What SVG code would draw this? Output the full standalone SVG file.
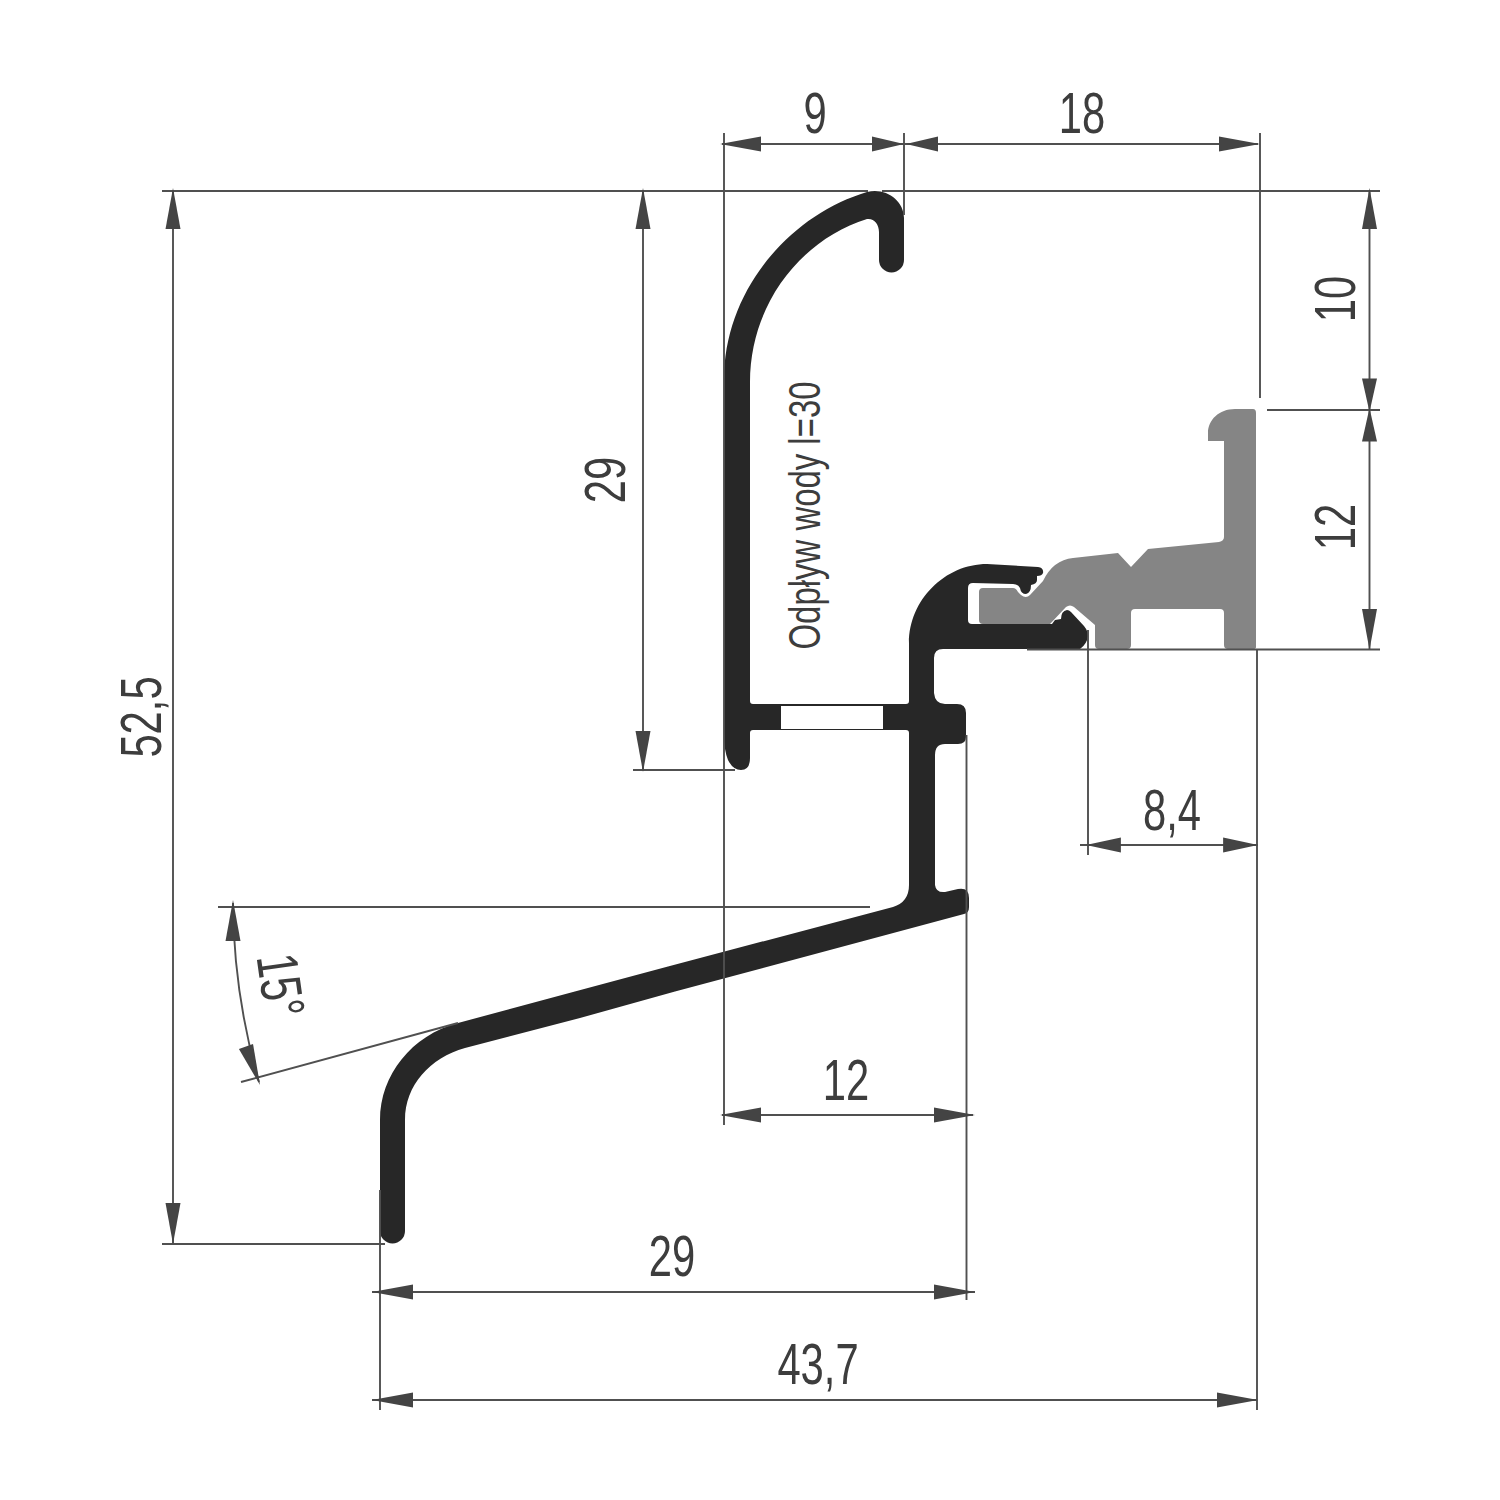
<svg xmlns="http://www.w3.org/2000/svg" width="1500" height="1500" viewBox="0 0 1500 1500">
<style>
.d{stroke:#505050;stroke-width:1.9;fill:none}
.a{fill:#444}
.t{font-family:"Liberation Sans",Arial,sans-serif;font-size:58px;fill:#3d3d3d;text-anchor:middle}
</style>
<defs>
<polygon id="ah" class="a" points="0,0 -41,-7.500 -41,7.500"/>
</defs>
<rect width="1500" height="1500" fill="#fff"/>
<g id="profile-black">
<path fill="#272727" fill-rule="evenodd" d="M724,380 C724,290 790,215 867,192 C885,187 904,200 904,218 V260 A12.5,12.5 0 0 1 879,260 V232 C879,224 874,218 867,219 C800,240 750,305 750,382 V701 Q750,704 753,704 H906 Q909,704 909,701 V643 C909,600 945,564 987,564 L1038,567 Q1044,568 1043,573 Q1042,576 1037,576 L1037,580 Q1037,584 1031,585 Q1031,593 1026,594 Q1021,594 1020,588 Q1018,584 1013,584 L973,583 Q968,583 968,588 V620 Q968,624 972,624 H1052 L1055,620 L1061,619 Q1061,611 1067,610 Q1069,610 1071,612 L1084,626 Q1088,631 1088,636 Q1087,644 1080,649 H943 Q934,649 934,658 V693 Q935,704 945,704 H957 Q966,704 966,713 V737 Q966,744 958,744 H945 Q935,744 935,755 V885 Q936,893 945,892 L958,889 Q969,887 969,898 V907 Q969,913 964,914 L675,991.500 L580,1018 L465,1048 C430,1058 405,1085 405,1120 V1231 A12.5,12.5 0 0 1 380,1231 V1120 C380,1075 412,1035 458,1023 L573,992 L668,966.500 L893,907 Q909,902 909,885 V733 Q909,730 906,730 H753 Q750,730 750,733 V758 Q750,770 741,770 Q733,770 728,760 Q724,750 724,735 Z M781,706 V729 H883 V706 Z"/>
</g>
<g id="profile-gray">
<path fill="#858585" d="M1256,413 V647 Q1256,649 1253,649 H1228 Q1224,649 1224,645 V613 Q1224,609 1220,609 H1135 Q1131,609 1131,613 V645 Q1131,649 1127,649 H1099 Q1095,649 1095,645 V625 L1074,607 Q1070,604 1066,607 L1050,624 H983 Q979,624 979,620 V592 Q979,588 983,588 H1013 Q1016,588 1018,592 L1021,595 Q1026,599 1030,595 L1043,581 Q1053,560 1073,558 L1118,553 L1131,567 L1148,549 L1219,542 Q1224,541 1224,537 V441 H1208 V433 C1208,420 1219,409 1235,409 H1253 Q1256,409 1256,413 Z"/>
</g>
<g id="connectors">
<path class="d" d="M162,191 H868 M882,191 H1380 M1267,410 H1380 M1027,649.500 H1380"/>
<path class="d" d="M724,133 V1125 M904,133 V215 M1260,133 V398 M1088,630 V855 M1257,650 V1410 M966.500,735 V1300 M380,1190 V1410"/>
<path class="d" d="M722,144 H1258 M1369.500,191 V650 M1080,845 H1258 M722,1115 H973 M372,1292 H975 M372,1400 H1257 M173,191 V1243 M643,191 V770 M633,770 H735 M162,1244 H385 M218,907 H870 M241,1082 L458,1023 M233,903 A660,660 0 0 0 259,1082"/>
<use href="#ah" transform="translate(720,144) rotate(180)"/>
<use href="#ah" transform="translate(904,144) scale(.78,1)"/>
<use href="#ah" transform="translate(906,144) rotate(180) scale(.78,1)"/>
<use href="#ah" transform="translate(1260,144)"/>
<use href="#ah" transform="translate(1369.500,188) rotate(-90)"/>
<use href="#ah" transform="translate(1369.500,412) rotate(90) scale(.82,1)"/>
<use href="#ah" transform="translate(1369.500,408) rotate(-90) scale(.82,1)"/>
<use href="#ah" transform="translate(1369.500,650) rotate(90)"/>
<use href="#ah" transform="translate(1086,845) rotate(180) scale(.85,1)"/>
<use href="#ah" transform="translate(1258,845) scale(.85,1)"/>
<use href="#ah" transform="translate(720,1115) rotate(180)"/>
<use href="#ah" transform="translate(975,1115)"/>
<use href="#ah" transform="translate(372,1292) rotate(180)"/>
<use href="#ah" transform="translate(975,1292)"/>
<use href="#ah" transform="translate(372,1400) rotate(180)"/>
<use href="#ah" transform="translate(1258,1400)"/>
<use href="#ah" transform="translate(173,188) rotate(-90)"/>
<use href="#ah" transform="translate(173,1244) rotate(90)"/>
<use href="#ah" transform="translate(643,188) rotate(-90)"/>
<use href="#ah" transform="translate(643,772) rotate(90)"/>
<use href="#ah" transform="translate(233,900) rotate(-90)"/>
<use href="#ah" transform="translate(260,1085) rotate(70)"/>
</g>
<g id="labels">
<text class="t" transform="translate(815,133) scale(.72,1)">9</text>
<text class="t" transform="translate(1082,133) scale(.72,1)">18</text>
<text class="t" transform="translate(1355,299) rotate(-90) scale(.72,1)">10</text>
<text class="t" transform="translate(1355,527) rotate(-90) scale(.72,1)">12</text>
<text class="t" transform="translate(1172,830) scale(.72,1)">8,4</text>
<text class="t" transform="translate(846,1100) scale(.72,1)">12</text>
<text class="t" transform="translate(672,1276) scale(.72,1)">29</text>
<text class="t" transform="translate(818,1384) scale(.72,1)">43,7</text>
<text class="t" transform="translate(161,717) rotate(-90) scale(.72,1)">52,5</text>
<text class="t" transform="translate(625,480) rotate(-90) scale(.72,1)">29</text>
<text class="t" transform="translate(261,988) rotate(82) scale(.72,1)">15°</text>
<text class="t" style="font-size:44.500px" transform="translate(819.500,515.500) rotate(-90) scale(.74,1)">Odpływ wody l=30</text>
</g>
</svg>
